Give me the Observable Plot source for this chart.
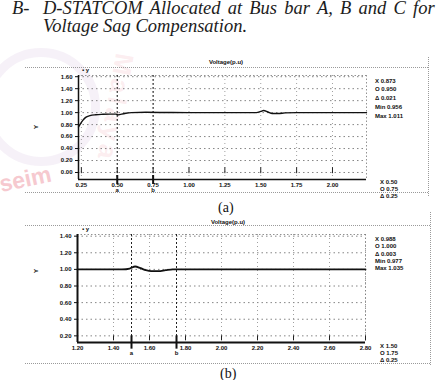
<!DOCTYPE html>
<html><head><meta charset="utf-8">
<script src="https://cdn.jsdelivr.net/npm/d3@7"></script>
<script src="https://cdn.jsdelivr.net/npm/@observablehq/plot@0.6"></script>
<style>
body{margin:0;background:#fff;}
#page{position:relative;width:438px;height:380px;overflow:hidden;background:#fff;font-family:"Liberation Sans",Arial,sans-serif;}
.abs{position:absolute;white-space:nowrap;}
.head{font-family:"Liberation Serif","Times New Roman",serif;font-style:italic;font-size:18.5px;color:#1c1c1c;line-height:1;}
.cap{font-family:"Liberation Serif","Times New Roman",serif;font-size:14px;color:#111;line-height:1;}
.ro{font-size:6px;font-weight:bold;color:#111;line-height:1;}
.ttl{font-size:6px;font-weight:bold;color:#111;line-height:1;transform:translateX(-50%);}
.hl{position:absolute;border-top:1px dotted #9a9a9a;height:0;}
.vl{position:absolute;border-left:1px dotted #9a9a9a;width:0;}
.wm{position:absolute;font-family:"Liberation Sans",Arial,sans-serif;font-weight:bold;color:#f6c9cf;font-size:23px;line-height:1;transform:rotate(-12deg);transform-origin:left bottom;}
.wm2{position:absolute;font-family:"Liberation Sans",Arial,sans-serif;font-weight:bold;color:rgba(240,165,175,0.2);font-size:26px;line-height:1;transform:rotate(100deg);transform-origin:left top;letter-spacing:4px;}
.logo{position:absolute;border-radius:50%;border:9px solid rgba(205,175,215,0.18);}
</style>
</head><body>
<div id="page"></div>
<script>
// ---------- data ----------
const headLines = ["B-", "D-STATCOM Allocated at Bus bar A, B and C for", "Voltage Sag Compensation."];
const panelTitle = "Voltage(p.u)";
const captions = ["(a)", "(b)"];

// panel (a)
const tA = [0.23, 0.24, 0.26, 0.28, 0.31, 0.35, 0.40, 0.45, 0.49, 0.51, 0.53, 0.56, 0.60, 0.70, 0.80, 1.00, 1.20, 1.40, 1.47, 1.50, 1.52, 1.55, 1.58, 1.62, 1.67, 1.75, 2.00, 2.237];
const vA = [0.76, 0.80, 0.87, 0.92, 0.95, 0.965, 0.972, 0.975, 0.975, 0.962, 0.975, 0.99, 1.0, 1.005, 1.003, 1.0, 1.0, 1.0, 1.0, 1.02, 1.035, 1.01, 0.985, 0.985, 0.995, 1.0, 1.0, 1.0];
const xDomA = [0.23, 2.237];
const yDomA = [-0.117, 1.62];
const xTicksA = [0.25, 0.50, 0.75, 1.00, 1.25, 1.50, 1.75, 2.00];
const yTicksA = [0.00, 0.20, 0.40, 0.60, 0.80, 1.00, 1.20, 1.40, 1.60];
const cursorsA = [0.50, 0.75];
const readA = ["X 0.873", "O 0.950", "\u0394 0.021", "Min 0.956", "Max 1.011"];
const cursReadA = ["X 0.50", "O 0.75", "\u0394 0.25"];

// panel (b)
const tB = [1.20, 1.45, 1.49, 1.52, 1.55, 1.58, 1.61, 1.65, 1.69, 1.73, 2.80];
const vB = [1.00, 1.00, 1.01, 1.035, 1.015, 0.99, 0.978, 0.978, 0.99, 1.0, 1.0];
const xDomB = [1.20, 2.80];
const yDomB = [0.12, 1.42];
const xTicksB = [1.20, 1.40, 1.60, 1.80, 2.00, 2.20, 2.40, 2.60, 2.80];
const yTicksB = [0.20, 0.40, 0.60, 0.80, 1.00, 1.20, 1.40];
const cursorsB = [1.50, 1.75];
const readB = ["X 0.988", "O 1.000", "\u0394 0.003", "Min 0.977", "Max 1.035"];
const cursReadB = ["X 1.50", "O 1.75", "\u0394 0.25"];
const cursorTags = ["a", "b"];
const watermark = ["seim", "Malaya"];

// ---------- layout helpers ----------
const page = document.getElementById("page");
function addDiv(cls, text, left, top, extra) {
  const d = document.createElement("div");
  d.className = "abs " + cls;
  if (text != null) d.textContent = text;
  d.style.left = left + "px"; d.style.top = top + "px";
  if (extra) Object.assign(d.style, extra);
  page.appendChild(d);
  return d;
}

// faint watermark
addDiv("logo", null, -18, 48, {width: "100px", height: "100px"});
addDiv("wm2", watermark[1], 138, 56);
addDiv("wm", watermark[0], 2, 173);

// heading
addDiv("head", headLines[0], 12, -1.5);
addDiv("head", headLines[1], 43, -1.5, {wordSpacing: "2.6px"});
addDiv("head", headLines[2], 43, 17);

function panel(cfg) {
  const data = cfg.t.map((t, i) => ({t, v: cfg.v[i]}));
  const yMin = cfg.yDom[0], yMax = cfg.yDom[1];
  const chart = Plot.plot({
    width: 438, height: cfg.height,
    marginLeft: cfg.ml, marginRight: cfg.mr, marginTop: cfg.mt, marginBottom: cfg.mb,
    style: {fontFamily: "Liberation Sans, Arial, sans-serif", fontSize: "6px", fontWeight: "bold", color: "#111", background: "transparent", overflow: "visible"},
    x: {domain: cfg.xDom},
    y: {domain: cfg.yDom},
    marks: [
      Plot.ruleY(cfg.yTicks, {stroke: "#666", strokeWidth: 0.8, strokeDasharray: "1.5,3"}),
      Plot.ruleX(cfg.xTicks, {stroke: "#888", strokeWidth: 0.8, strokeDasharray: "1,3"}),
      Plot.ruleY([yMax], {stroke: "#777", strokeWidth: 0.8, strokeDasharray: "1.5,2"}),
      Plot.ruleX([cfg.xDom[1]], {stroke: "#777", strokeWidth: 0.8, strokeDasharray: "1.5,2"}),
      Plot.ruleX(cfg.cursors, {stroke: "#222", strokeWidth: 1, strokeDasharray: "2,2"}),
      Plot.ruleX(cfg.xTicks, {y1: cfg.tickLo, y2: cfg.tickHi, stroke: "#222", strokeWidth: 1}),
      Plot.ruleX(cfg.cursors, {y1: cfg.curLo, y2: cfg.curHi, stroke: "#111", strokeWidth: 2}),
      Plot.text(cfg.cursors, {x: d => d, text: (d, i) => cursorTags[i], frameAnchor: "bottom", dy: 12, fontSize: 6, fontWeight: "bold"}),
      Plot.line(data, {x: "t", y: "v", stroke: "#111", strokeWidth: cfg.lw, curve: "monotone-x"}),
      Plot.ruleY([yMin], {stroke: "#111", strokeWidth: cfg.axw}),
      Plot.ruleX([cfg.xDom[0]], {stroke: "#111", strokeWidth: cfg.axw}),
      Plot.axisX(cfg.xTicks, {tickSize: 0, tickPadding: 3, tickFormat: d3.format(".2f"), label: null, fontSize: 6, fontWeight: "bold"}),
      Plot.axisY(cfg.yTicks, {tickSize: 3, tickPadding: 3, tickFormat: d3.format(".2f"), label: null, fontSize: 6, fontWeight: "bold"})
    ]
  });
  const holder = addDiv("", null, 0, cfg.top);
  holder.appendChild(chart);
  addDiv("ttl", panelTitle, cfg.titleX, cfg.titleY);
  cfg.read.forEach((s, i) => addDiv("ro", s, 375, cfg.readY0 + i * cfg.readDy));
  cfg.cursRead.forEach((s, i) => addDiv("ro", s, 380, cfg.cursY0 + i * 7.2));
  addDiv("ro", "\u25AA y", 82, cfg.top + cfg.mt - 8);
  addDiv("ro", "Y", 34, cfg.yLabY, {transform: "rotate(-90deg)"});
  addDiv("cap", cfg.caption, cfg.capX, cfg.capY);
}

panel({t: tA, v: vA, xDom: xDomA, yDom: yDomA, xTicks: xTicksA, yTicks: yTicksA, cursors: cursorsA,
  top: 55, height: 145, ml: 78, mr: 72, mt: 20, mb: 21, lw: 1.4, axw: 1.5,
  tickLo: -0.02, tickHi: 0.08, curLo: -0.2, curHi: -0.05,
  titleX: 226, titleY: 59, read: readA, readY0: 77.5, readDy: 8.8, cursRead: cursReadA, cursY0: 178.5,
  yLabY: 124, caption: captions[0], capX: 218, capY: 201});

panel({t: tB, v: vB, xDom: xDomB, yDom: yDomB, xTicks: xTicksB, yTicks: yTicksB, cursors: cursorsB,
  top: 210, height: 160, ml: 77, mr: 73, mt: 24, mb: 28, lw: 1.8, axw: 2,
  tickLo: 0.14, tickHi: 0.2, curLo: 0.04, curHi: 0.2,
  titleX: 228, titleY: 219, read: readB, readY0: 236, readDy: 7.3, cursRead: cursReadB, cursY0: 342.5,
  yLabY: 268, caption: captions[1], capX: 220, capY: 367});

function hl(x, y, w) { const d = document.createElement("div"); d.className = "hl"; Object.assign(d.style, {left: x + "px", top: y + "px", width: w + "px"}); page.appendChild(d); }
function vl(x, y, h) { const d = document.createElement("div"); d.className = "vl"; Object.assign(d.style, {left: x + "px", top: y + "px", height: h + "px"}); page.appendChild(d); }
hl(25, 67, 403); vl(428, 57, 139); hl(25, 192, 403);
hl(25, 225, 405); vl(430, 212, 153); hl(25, 363, 405);
</script>
</body></html>
